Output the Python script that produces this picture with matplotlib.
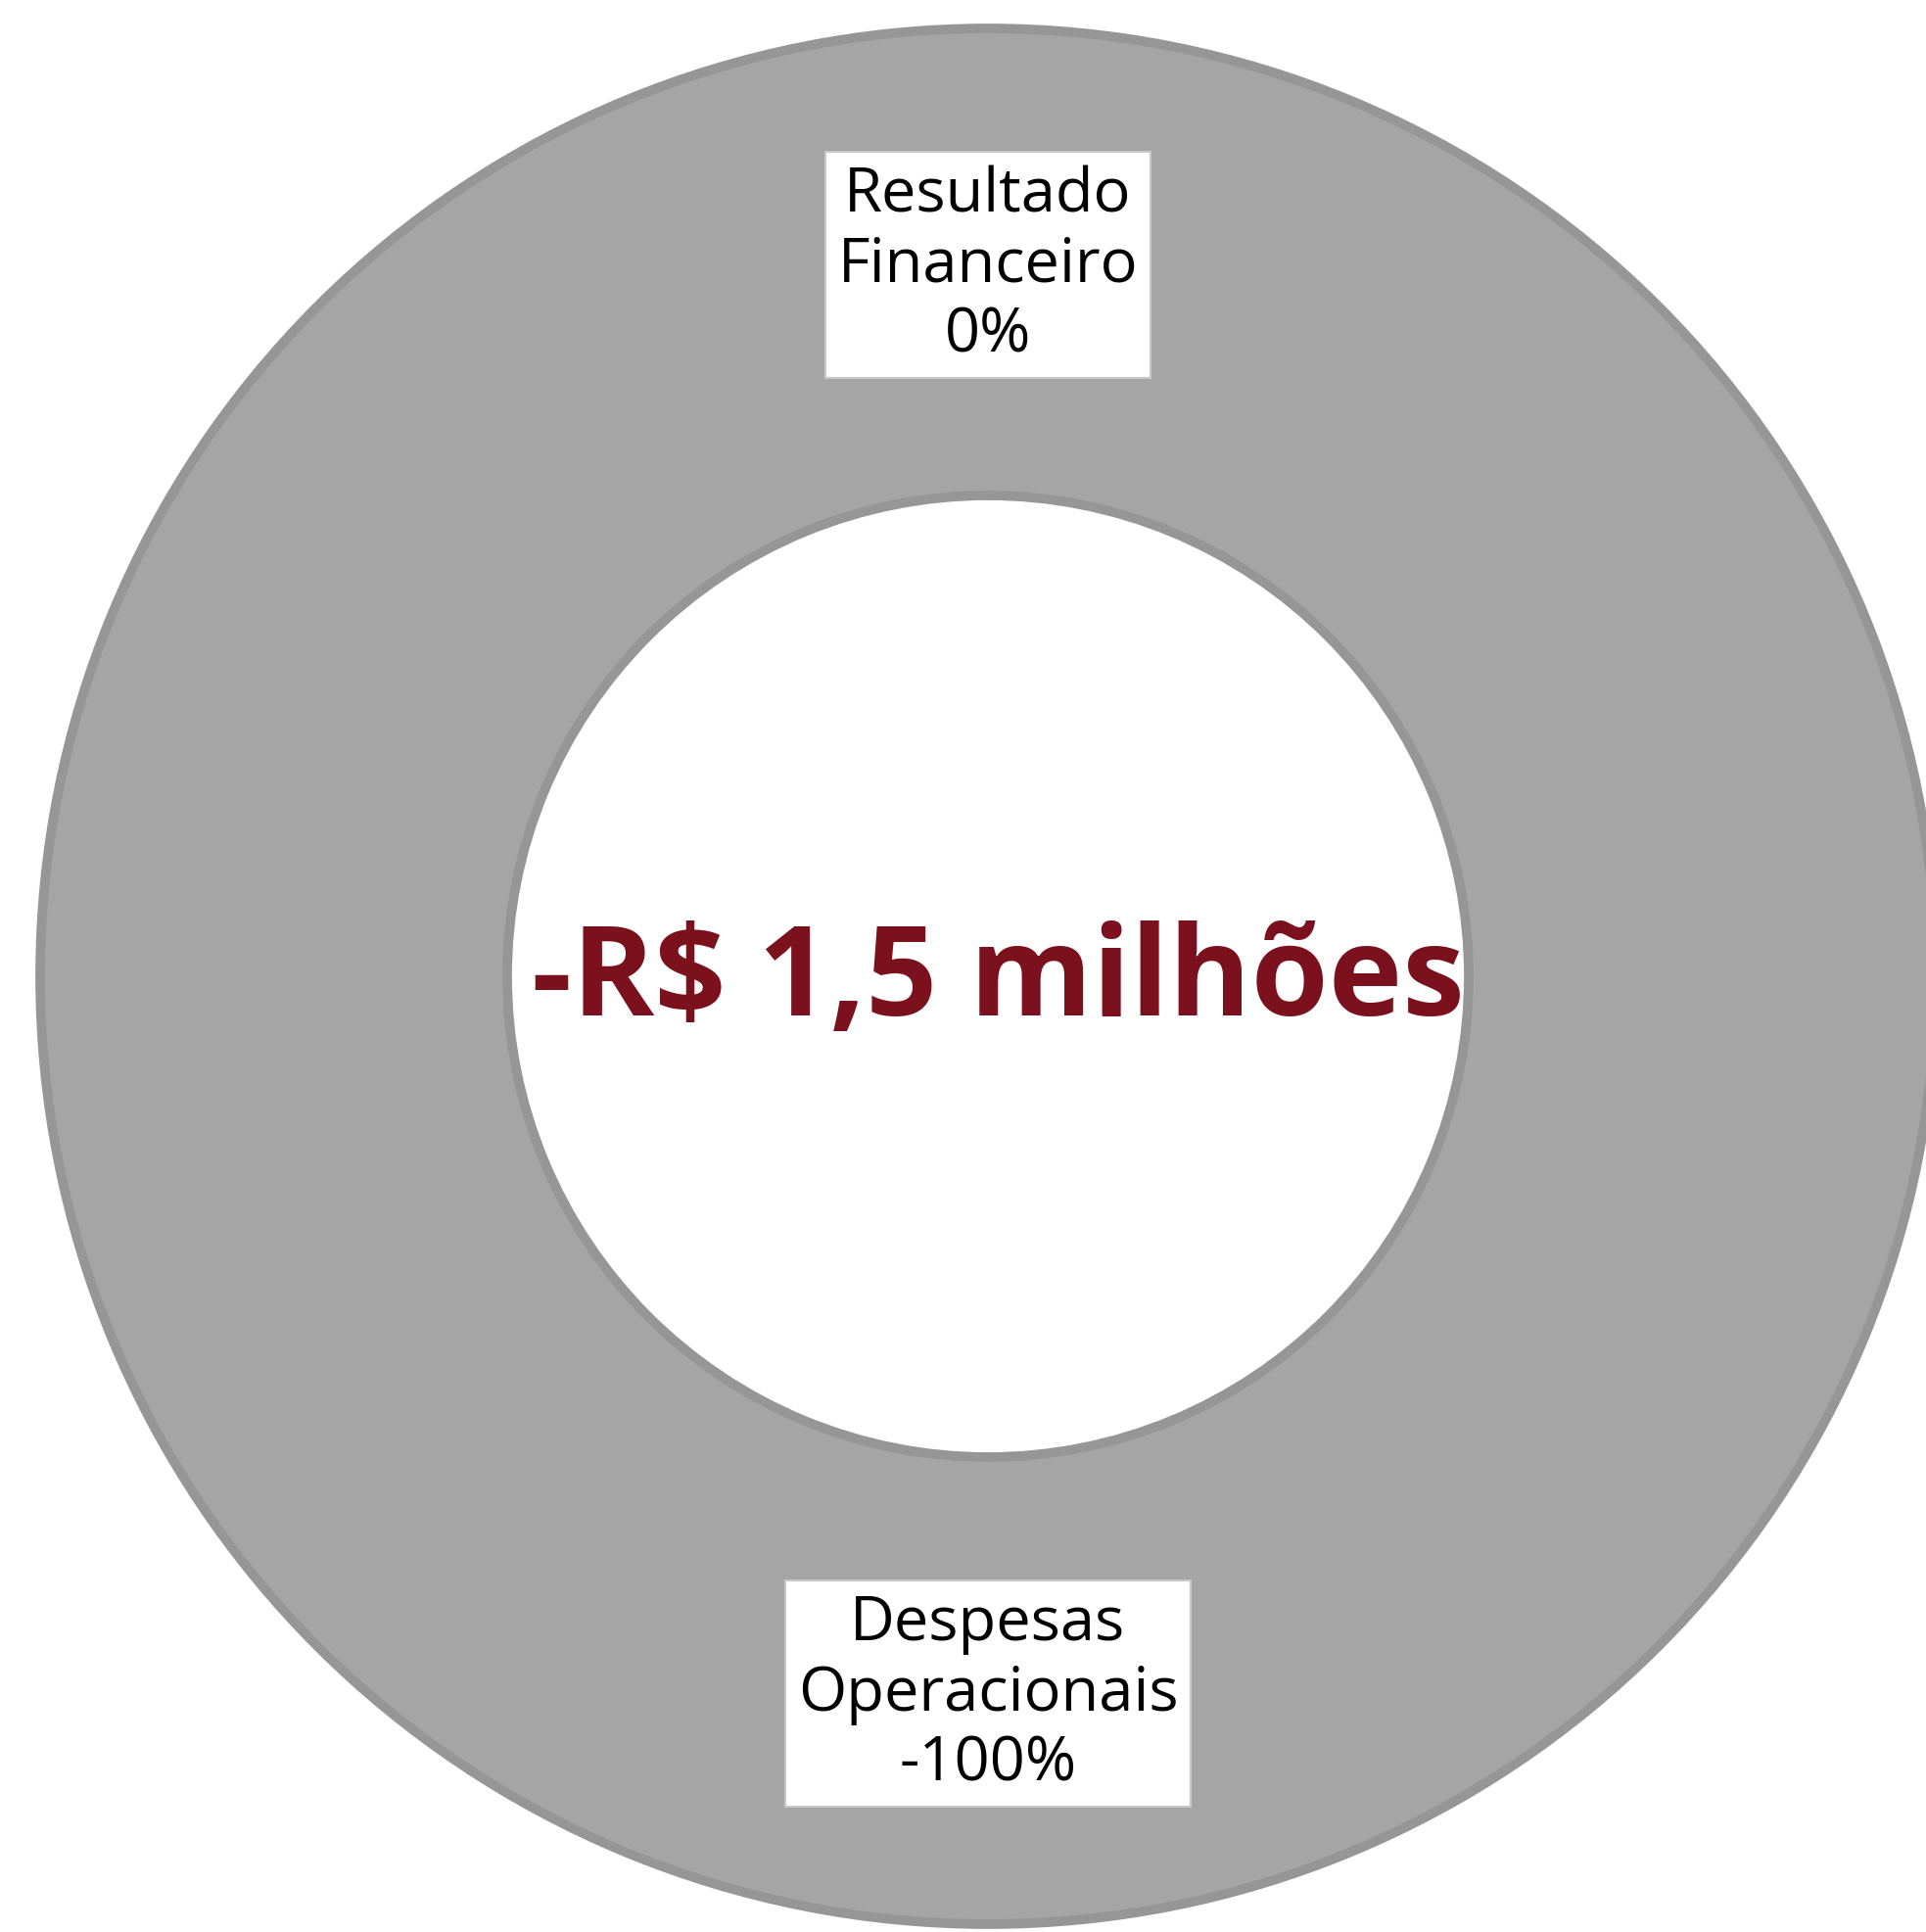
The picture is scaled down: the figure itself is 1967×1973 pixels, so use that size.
#!/usr/bin/env python3
"""Donut chart: composicao do resultado."""

import matplotlib
matplotlib.use('Agg')
import matplotlib.pyplot as plt
import numpy as np

categories = ['Resultado\nFinanceiro', 'Despesas\nOperacionais']
shares = [0, -100]          # percent of result
total_label = '-R$ 1,5 milhões'

C = {
    'ring': '#a5a5a5',
    'edge': '#969696',
    'box_edge': '#c8c8c8',
    'total': '#7b111c',
    'text': '#000000',
}

W, H = 1967, 1974
fig = plt.figure(figsize=(W / 100, H / 100), dpi=100)
ax = fig.add_axes([0, 0, 1, 1])

cx, cy = 1009, H - 998
r_out, r_in = 968, 491
wedges, _ = ax.pie(
    np.abs(shares), center=(cx, cy), radius=r_out,
    startangle=90, counterclock=False, colors=[C['ring']] * len(shares),
    wedgeprops=dict(width=r_out - r_in, edgecolor=C['edge'], linewidth=7),
    frame=True,
)
ax.set_xlim(0, W)
ax.set_ylim(0, H)
ax.set_aspect('equal')
ax.axis('off')

# Data labels in the middle of the ring
r_mid = (r_out + r_in) / 2
for w, cat, s in zip(wedges, categories, shares):
    ang = np.deg2rad((w.theta1 + w.theta2) / 2)
    x = cx + r_mid * np.cos(ang)
    y = cy + r_mid * np.sin(ang)
    ax.text(x, y - 3, f'{cat}\n{s:.0f}%', ha='center', va='center',
            fontsize=45.5, color=C['text'], family='Open Sans', linespacing=1.19,
            bbox=dict(boxstyle='square,pad=0.2', facecolor='white',
                      edgecolor=C['box_edge'], linewidth=1.5), zorder=5)

# Total in the hole
ax.text(cx + 10, cy - 6, total_label, ha='center', va='center', fontsize=92,
        fontweight='bold', color=C['total'], family='Open Sans', zorder=5)

fig.savefig('out.png', dpi=100, facecolor='white')
plt.close()
